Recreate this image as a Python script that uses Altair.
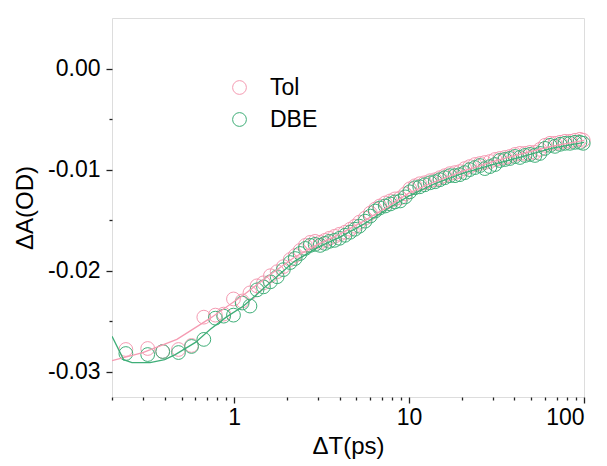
import altair as alt
import pandas as pd

# delay times (ps)
t = [0.24, 0.32, 0.39, 0.48, 0.57, 0.67, 0.78, 0.87, 0.99, 1.11, 1.23, 1.35, 1.47,
     1.61, 1.76, 1.91, 2.09, 2.23, 2.38, 2.55, 2.72, 2.90, 3.10, 3.30, 3.50, 3.75,
     4.00, 4.30, 4.60, 4.90, 5.20, 5.60, 6.00, 6.40, 6.80, 7.30, 7.80, 8.30, 8.90,
     9.50, 10.1, 10.8, 11.5, 12.3, 13.2, 14.1, 15.0, 16.0, 17.1, 18.3, 19.5, 20.8,
     22.2, 23.8, 25.4, 27.1, 29.0, 31.0, 33.0, 35.3, 37.7, 40.3, 43.0, 46.0, 49.1,
     52.4, 56.0, 59.8, 63.9, 68.2, 72.9, 77.8, 83.1, 88.8, 94.8, 99.0]

dbe = [-0.0282, -0.0283, -0.0280, -0.0281, -0.0275, -0.0268, -0.0247, -0.0245, -0.0244,
       -0.0232, -0.0235, -0.0219, -0.0216, -0.0211, -0.0206, -0.0199, -0.0192, -0.0188,
       -0.0183, -0.0178, -0.0175, -0.0174, -0.0175, -0.0173, -0.0171, -0.0170, -0.0168,
       -0.0165, -0.0162, -0.0159, -0.0156, -0.0151, -0.0146, -0.0141, -0.0138, -0.0136,
       -0.0134, -0.0132, -0.0131, -0.0127, -0.0122, -0.0118, -0.0117, -0.0115, -0.0113,
       -0.0112, -0.0110, -0.0108, -0.0106, -0.0106, -0.0105, -0.0103, -0.0100, -0.0098,
       -0.0096, -0.0099, -0.0097, -0.0095, -0.0091, -0.0090, -0.0089, -0.0087, -0.0088,
       -0.0086, -0.0085, -0.0086, -0.0084, -0.0079, -0.0076, -0.0077, -0.0075, -0.0074,
       -0.0074, -0.0073, -0.0073, -0.0074]

tol = [-0.0278, -0.0277, -0.0280, -0.0278, -0.0274, -0.0246, -0.0244, -0.0243, -0.0228,
       -0.0230, -0.0222, -0.0215, -0.0212, -0.0205, -0.0201, -0.0196, -0.0189, -0.0185,
       -0.0180, -0.0175, -0.0172, -0.0171, -0.0172, -0.0170, -0.0168, -0.0166, -0.0164,
       -0.0162, -0.0159, -0.0156, -0.0152, -0.0148, -0.0143, -0.0139, -0.0136, -0.0133,
       -0.0131, -0.0129, -0.0128, -0.0124, -0.0119, -0.0116, -0.0114, -0.0113, -0.0111,
       -0.0110, -0.0108, -0.0106, -0.0104, -0.0103, -0.0102, -0.0099, -0.0097, -0.0095,
       -0.0094, -0.0093, -0.0092, -0.0090, -0.0089, -0.0088, -0.0087, -0.0085, -0.0084,
       -0.0084, -0.0083, -0.0083, -0.0080, -0.0076, -0.0074, -0.0074, -0.0073, -0.0072,
       -0.0072, -0.0071, -0.0070, -0.0071]

# fitted curves
tol_fit_t = [0.2, 0.3, 0.47, 0.73, 1.13, 1.6, 2.2, 3, 4, 5.5, 7.5, 10, 14, 20, 30, 45, 65, 100]
tol_fit_v = [-0.0289, -0.0281, -0.0268, -0.0247, -0.0224, -0.0204, -0.0187, -0.0174, -0.0164,
             -0.0151, -0.0137, -0.0123, -0.0112, -0.0102, -0.0092, -0.0084, -0.0077, -0.0071]
dbe_fit_t = [0.2, 0.233, 0.26, 0.33, 0.4, 0.46, 0.6, 0.73, 0.9, 1.13, 1.6, 2.2, 3, 4, 5.5,
             7.5, 10, 14, 20, 30, 45, 65, 100]
dbe_fit_v = [-0.0265, -0.0288, -0.0291, -0.0291, -0.0288, -0.0283, -0.0271, -0.0258, -0.0246,
             -0.0235, -0.0212, -0.0191, -0.0177, -0.0167, -0.0154, -0.0139, -0.0126, -0.0114,
             -0.0104, -0.0095, -0.0087, -0.0079, -0.0073]

series = ["Tol", "DBE"]
x_major = [1, 10, 100]
x_minor = [0.2, 0.3, 0.4, 0.5, 0.6, 0.7, 0.8, 0.9, 2, 3, 4, 5, 6, 7, 8, 9,
           20, 30, 40, 50, 60, 70, 80, 90]
y_major = [0.0, -0.01, -0.02, -0.03]
y_minor = [-0.005, -0.015, -0.025]

PINK = "#F59BB2"
GREEN = "#3FAE78"
FONT = "Liberation Sans"
AXC = "#222222"

pts = pd.DataFrame({
    "t": t + t,
    "v": tol + dbe,
    "series": ["Tol"] * len(t) + ["DBE"] * len(t),
})
tol_fit = pd.DataFrame({"t": tol_fit_t, "v": tol_fit_v})
dbe_fit = pd.DataFrame({"t": dbe_fit_t, "v": dbe_fit_v})

xs = alt.Scale(type="log", domain=[0.2, 100], nice=False)
ys = alt.Scale(domain=[-0.0325, 0.005], nice=False, zero=False)

x_axis_major = alt.Axis(orient="bottom", values=x_major, format=".0f", tickSize=6,
                        tickWidth=1.3, tickColor=AXC, domain=False, grid=False,
                        labelFontSize=23, labelFont=FONT, labelColor="black",
                        labelPadding=3, title="ΔT(ps)", titleFont=FONT,
                        titleFontSize=24, titleFontWeight="normal", titleColor="black",
                        titlePadding=5)
y_axis_major = alt.Axis(orient="left", values=y_major,
                        labelExpr="replace(format(datum.value, '.2f'), '\u2212', '-')",
                        tickSize=6, tickWidth=1.3, tickColor=AXC, domain=False,
                        grid=False, labelFontSize=23, labelFont=FONT, labelColor="black",
                        labelPadding=6, title="ΔA(OD)", titleFont=FONT, titleFontSize=24,
                        titleFontWeight="normal", titleColor="black", titlePadding=10)
x_axis_minor = alt.Axis(orient="bottom", values=x_minor, tickSize=3, tickWidth=1.3,
                        tickColor=AXC, labels=False, domain=False, grid=False, title=None)
y_axis_minor = alt.Axis(orient="left", values=y_minor, tickSize=3, tickWidth=1.3,
                        tickColor=AXC, labels=False, domain=False, grid=False, title=None)

points = alt.Chart(pts).mark_point(shape="circle", filled=False, size=190,
                                   strokeWidth=1, opacity=1).encode(
    x=alt.X("t:Q", scale=xs, axis=x_axis_major),
    y=alt.Y("v:Q", scale=ys, axis=y_axis_major),
    color=alt.Color("series:N", scale=alt.Scale(domain=series, range=[PINK, GREEN]),
                    legend=alt.Legend(orient="none", legendX=116, legendY=58,
                                      title=None, symbolSize=190, symbolStrokeWidth=1,
                                      symbolType="circle", labelFontSize=23,
                                      labelFont=FONT, labelColor="black",
                                      labelOffset=19, rowPadding=8)),
    order=alt.Order("idx:Q"),
).transform_window(idx="row_number()")

line_tol = alt.Chart(tol_fit).mark_line(color=PINK, strokeWidth=1.3, clip=True).encode(
    x=alt.X("t:Q", scale=xs, axis=x_axis_minor),
    y=alt.Y("v:Q", scale=ys, axis=y_axis_minor),
)
line_dbe = alt.Chart(dbe_fit).mark_line(color=GREEN, strokeWidth=1.3, clip=True).encode(
    x=alt.X("t:Q", scale=xs, axis=None),
    y=alt.Y("v:Q", scale=ys, axis=None),
)

chart = alt.layer(points, line_tol, line_dbe).resolve_axis(
    x="independent", y="independent"
).properties(
    width=472, height=379,
    autosize=alt.AutoSizeParams(type="none"),
    padding={"left": 112, "top": 18, "right": 23, "bottom": 69},
).configure_view(stroke=AXC, strokeWidth=1.6).configure(background="white")

chart.save("out.html", embed_options={"renderer": "svg", "actions": False})
